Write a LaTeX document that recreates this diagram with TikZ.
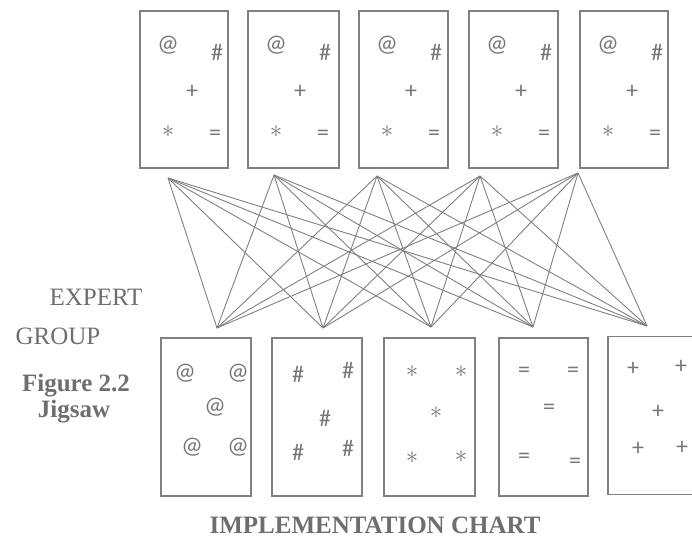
\documentclass[tikz,border=0pt]{standalone}
\usepackage{fontspec}
\setmainfont{Liberation Serif}
\newfontfamily\symfont{Carlito}
\definecolor{inkgray}{HTML}{6E6E6E}
\definecolor{linegray}{HTML}{808080}
\definecolor{symgray}{HTML}{777777}
\newcommand{\astsym}{\fontsize{26}{26}\selectfont$\ast$}
\begin{document}
\begin{tikzpicture}[x=1pt,y=-1pt,
  boxstyle/.style={draw=linegray,line width=1.1pt,rectangle,inner sep=0pt},
  topbox/.style={boxstyle,minimum height=157pt},
  botbox/.style={boxstyle,minimum height=158pt},
  sym/.style={text=symgray,font=\symfont\fontsize{24}{24}\selectfont,inner sep=0pt},
  conn/.style={draw=linegray,line width=0.9pt},
  lbl/.style={text=inkgray,font=\fontsize{25}{25}\selectfont,inner sep=0pt,anchor=base},
  blbl/.style={lbl,font=\fontsize{25}{25}\selectfont\bfseries}]
\useasboundingbox (0,0) rectangle (692,539);
\clip (0,0) rectangle (692,539);
% top boxes
\node[topbox,minimum width=88pt] (t1) at (184,89.5) {};
\node[topbox,minimum width=91pt] (t2) at (293.5,89.5) {};
\node[topbox,minimum width=89pt] (t3) at (403.5,89.5) {};
\node[topbox,minimum width=89pt] (t4) at (513.5,89.5) {};
\node[topbox,minimum width=88pt] (t5) at (624,89.5) {};
\foreach \k/\L in {1/140,2/248,3/359,4/469,5/580}{
  \node[sym] (ta\k) at (\L+28,45) {@};
  \node[sym] (th\k) at (\L+77,52) {\#};
  \node[sym] (tp\k) at (\L+52,92) {+};
  \node[sym] (ts\k) at (\L+28,132) {\astsym};
  \node[sym] (te\k) at (\L+75,135) {=};
}
% bottom boxes
\node[botbox,minimum width=90pt] (u1) at (206,417) {};
\node[botbox,minimum width=90pt] (u2) at (317,417) {};
\node[botbox,minimum width=91pt] (u3) at (429.5,417) {};
\node[botbox,minimum width=89pt] (u4) at (543.5,417) {};
\node[botbox,minimum width=92pt] (u5) at (654,415.5) {};
% box 1 symbols
\node[sym] (s11) at (185,373) {@};
\node[sym] (s12) at (238,373) {@};
\node[sym] (s13) at (215,407) {@};
\node[sym] (s14) at (192,447) {@};
\node[sym] (s15) at (238,447) {@};
% box 2
\node[sym] (s21) at (298,374) {\#};
\node[sym] (s22) at (348,370) {\#};
\node[sym] (s23) at (325,418) {\#};
\node[sym] (s24) at (298,452) {\#};
\node[sym] (s25) at (348,448) {\#};
% box 3
\node[sym] (s31) at (412,372) {\astsym};
\node[sym] (s32) at (461,372) {\astsym};
\node[sym] (s33) at (436,413) {\astsym};
\node[sym] (s34) at (412,458) {\astsym};
\node[sym] (s35) at (461,457) {\astsym};
% box 4
\node[sym] (s41) at (524,372) {=};
\node[sym] (s42) at (573,372) {=};
\node[sym] (s43) at (549,409) {=};
\node[sym] (s44) at (524,458) {=};
\node[sym] (s45) at (575,463) {=};
% box 5
\node[sym] (s51) at (633,369) {+};
\node[sym] (s52) at (681,367) {+};
\node[sym] (s53) at (658,412) {+};
\node[sym] (s54) at (638,449) {+};
\node[sym] (s55) at (682,448) {+};
% connector end points
\coordinate (a1) at (168,178);
\coordinate (a2) at (274,175);
\coordinate (a3) at (377,176);
\coordinate (a4) at (480,176);
\coordinate (a5) at (578,173);
\coordinate (b1) at (217,328);
\coordinate (b2) at (323,328);
\coordinate (b3) at (431,327);
\coordinate (b4) at (533,327);
\coordinate (b5) at (647,326);
\foreach \i in {1,...,5}{
  \foreach \j in {1,...,5}{
    \draw[conn] (a\i) -- (b\j);
  }
}
% labels
\node[lbl] (expert) at (96,305) {EXPERT};
\node[lbl] (group) at (58,344) {GROUP};
\node[blbl] (fig) at (76,391) {Figure 2.2};
\node[blbl] (jig) at (74,417) {Jigsaw};
\node[blbl] (chart) at (375,533) {IMPLEMENTATION CHART};
\end{tikzpicture}
\end{document}
